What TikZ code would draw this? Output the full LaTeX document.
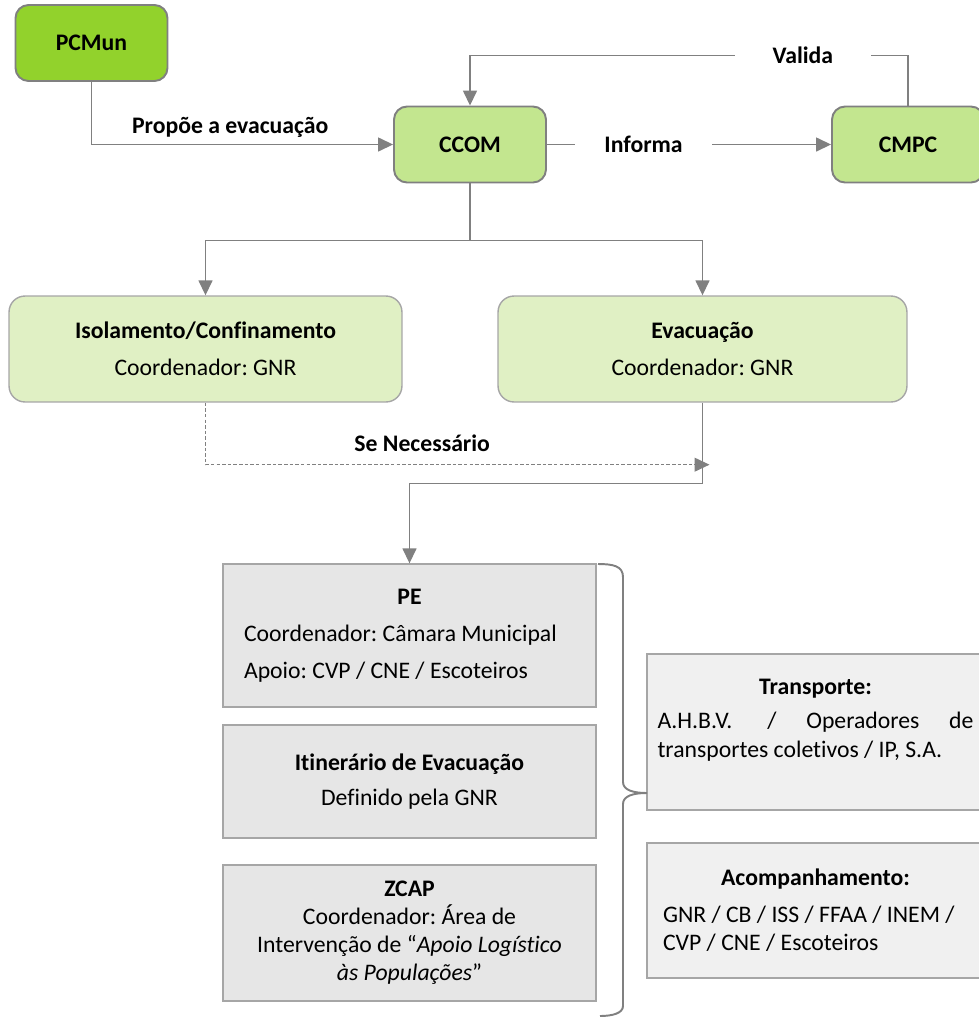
\documentclass[tikz,border=0pt]{standalone}
\usepackage{fontspec}
\setmainfont{Carlito}[Ligatures=NoCommon]
\usepackage{xcolor}
\usetikzlibrary{arrows.meta,positioning}

\definecolor{lnGray}{RGB}{128,128,128}
\definecolor{bdGray}{RGB}{166,166,166}
\definecolor{darkGreen}{RGB}{146,210,44}
\definecolor{midGreen}{RGB}{195,230,143}
\definecolor{paleGreen}{RGB}{224,240,196}
\definecolor{boxGray}{RGB}{230,230,230}
\definecolor{lightGray}{RGB}{240,240,240}

\begin{document}
\frenchspacing
\begin{tikzpicture}[x=0.02cm, y=-0.02cm,
        font=\fontsize{13.5}{16}\selectfont,
        entity/.style={draw=lnGray, line width=1.1pt, rounded corners=0.26cm,
                       minimum width=3.04cm, minimum height=1.52cm,
                       font=\fontsize{13.5}{16}\selectfont\bfseries},
        lead/.style={entity, fill=darkGreen},
        ctrl/.style={entity, fill=midGreen},
        action/.style={draw=bdGray, line width=0.8pt, rounded corners=0.32cm, fill=paleGreen,
                       minimum height=2.12cm, align=center},
        task/.style={draw=bdGray, line width=0.8pt, fill=boxGray, minimum width=7.46cm},
        means/.style={draw=bdGray, line width=0.8pt, fill=lightGray, minimum width=6.74cm},
        conn/.style={draw=lnGray, line width=0.85pt, -{Triangle[length=0.3cm, width=0.28cm]}},
        lbl/.style={font=\fontsize{13.5}{16}\selectfont\bfseries, inner sep=2pt},
        brc/.style={draw=lnGray, line width=1.1pt},
    ]
        \useasboundingbox (0,0) rectangle (979,1022);

        \node[lead] (pcmun) at (91.5,43)    {PCMun};
        \node[ctrl] (ccom)  at (470,144.5)  {CCOM};
        \node[ctrl] (cmpc)  at (908,144.5)  {CMPC};

        \node[action, minimum width=7.86cm] (isol) at (205.5,349)
            {\textbf{Isolamento/Confinamento}\\[5pt]Coordenador: GNR};
        \node[action, minimum width=8.18cm] (evac) at (702.5,349)
            {\textbf{Evacuação}\\[5pt]Coordenador: GNR};

        \node[task, minimum height=2.86cm, text width=6.62cm, align=flush left] (pe) at (409.5,635.5)
            {{\centering\textbf{PE}\par}\vspace{5pt}Coordenador: Câmara Municipal\\[5pt]Apoio: CVP / CNE / Escoteiros};
        \node[task, minimum height=2.26cm, align=center] (itin) at (409.5,781.5)
            {\textbf{Itinerário de Evacuação}\\[4pt]Definido pela GNR};
        \node[task, minimum height=2.72cm, align=center] (zcap) at (409.5,933)
            {\textbf{ZCAP}\\Coordenador: Área de\\Intervenção de “\textit{Apoio Logístico}\\\textit{às Populações}”};

        \node[means, minimum height=3.12cm, text width=6.32cm, align=flush left] (transp) at (815.5,732)
            {{\centering\textbf{Transporte:}\par}\vspace{5.5pt}\baselineskip=14.2pt
             A.H.B.V. \hfill/\hfill Operadores\hfill de\\
             transportes coletivos / IP, S.A.\rule[-16pt]{0pt}{0pt}};
        \node[means, minimum height=2.7cm, text width=6.1cm, align=flush left] (acomp) at (815.5,910.5)
            {{\centering\textbf{Acompanhamento:}\par}\vspace{6.3pt}\baselineskip=14.7pt
             GNR / CB / ISS / FFAA / INEM /\\CVP / CNE / Escoteiros};

        \coordinate (merge) at ([xshift=0.14cm, yshift=-1.24cm]evac.south);

        \draw[conn] (pcmun) |- node[lbl, above=1.5pt, pos=0.73] {Propõe a evacuação} (ccom);
        \draw[conn] (ccom) -- node[lbl, fill=white, inner xsep=0.58cm, pos=0.34] {Informa} (cmpc);
        \draw[conn] (cmpc.north) -- ++(0,-50) -| node[lbl, fill=white, inner xsep=0.75cm, pos=0.12] {Valida} (ccom.north);
        \draw[conn] (ccom.south) -- ++(0,57) -| (isol.north);
        \draw[conn] (ccom.south) -- ++(0,57) -| (evac.north);
        \draw[conn, line width=0.6pt, dash pattern=on 2pt off 1.2pt] (isol.south) |- node[lbl, above=5pt, pos=0.715] {Se Necessário} (merge);
        \draw[conn] (evac.south) -- ++(0,81) -| (pe.north);

        \draw[brc] (598,564) .. controls (613,564) and (623,566) .. (623,577) -- (623,782)
            .. controls (623,790) and (633,793) .. (647,793)
            .. controls (633,793) and (623,796) .. (623,804) -- (623,1006)
            .. controls (623,1013) and (613,1016) .. (600,1016);
    \end{tikzpicture}
\end{document}
